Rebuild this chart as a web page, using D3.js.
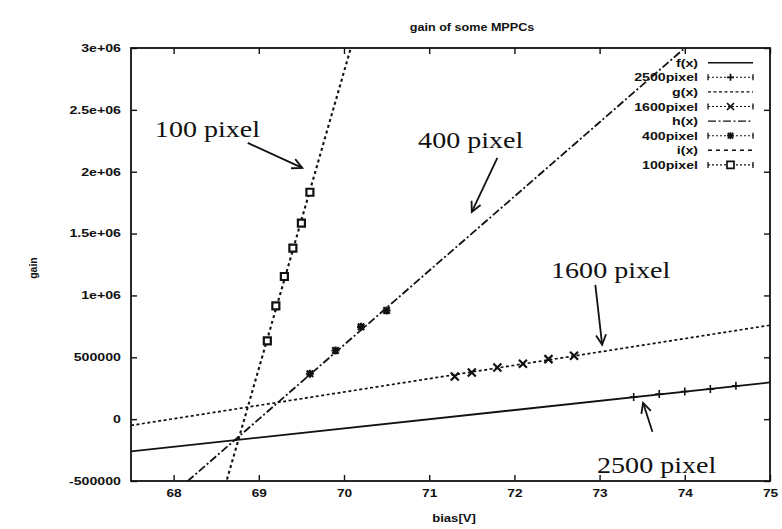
<!DOCTYPE html>
<html>
<head>
<meta charset="utf-8">
<script src="https://cdn.jsdelivr.net/npm/d3@7"></script>
<style>
  body { margin: 0; background: #fff; }
  text { font-family: "Liberation Sans", Arial, sans-serif; font-weight: bold; font-size: 10.5px; fill: #111; }
  .note { font-family: "Liberation Serif", serif; font-weight: normal; font-size: 24px; }
</style>
</head>
<body>
<div class="gainplot"></div>
<script>
// axis ticks
var xTicks = [68, 69, 70, 71, 72, 73, 74, 75];
var yTicks = [-500000, 0, 500000, 1000000, 1500000, 2000000, 2500000, 3000000];
var yTickLabels = ["-500000", "0", "500000", "1e+06", "1.5e+06", "2e+06", "2.5e+06", "3e+06"];

// fitted lines: gain = slope * (bias - root)
var fitNames = ["f(x)", "g(x)", "h(x)", "i(x)"];
var fitSlope = [74300, 108000, 600000, 2400000];
var fitRoot = [71.01, 67.97, 69.0, 68.83];

// measured points
var seriesNames = ["2500pixel", "1600pixel", "400pixel", "100pixel"];
var bias2500 = [73.4, 73.7, 74.0, 74.3, 74.6];
var gain2500 = [179000, 203000, 224000, 243000, 270000];
var bias1600 = [71.3, 71.5, 71.8, 72.1, 72.4, 72.7];
var gain1600 = [345000, 377000, 418000, 447000, 485000, 512000];
var bias400 = [69.6, 69.9, 70.2, 70.5];
var gain400 = [367000, 555000, 746000, 878000];
var bias100 = [69.1, 69.2, 69.3, 69.4, 69.5, 69.6];
var gain100 = [633000, 916000, 1153000, 1382000, 1584000, 1834000];

// hand-written annotations (data units)
var noteLabels = ["100 pixel", "400 pixel", "1600 pixel", "2500 pixel"];
var noteX = [67.78, 70.87, 72.43, 72.97];
var noteY = [2281000, 2192000, 1142000, -433000];
var arrowFrom = [[68.87, 2233000], [71.80, 2111000], [72.95, 1086000], [73.62, -102000]];
var arrowTo = [[69.51, 2031000], [71.50, 1675000], [73.03, 601000], [73.51, 132000]];

var margin = {top: 48, right: 12, bottom: 48, left: 131}
  , width = 782 - margin.left - margin.right
  , height = 529 - margin.top - margin.bottom;

var xScale = d3.scaleLinear().domain([67.5, 75]).range([0, width]);
var yScale = d3.scaleLinear().domain([-500000, 3000000]).range([height, 0]);

var fitDash = [null, "3,2.5", "8,2.5,2,2.5", "3,3"];
var fitWidth = [1.8, 1.7, 1.8, 2.1];
var markType = ["plus", "cross", "star", "square"];
var seriesBias = [bias2500, bias1600, bias400, bias100];
var seriesGain = [gain2500, gain1600, gain400, gain100];

var svg = d3.select(".gainplot").append("svg")
    .attr("width", 782)
    .attr("height", 529);

var defs = svg.append("defs");
defs.append("clipPath").attr("id", "clip")
  .append("rect").attr("width", width).attr("height", height);
defs.append("marker")
    .attr("id", "head")
    .attr("markerUnits", "userSpaceOnUse")
    .attr("markerWidth", 14).attr("markerHeight", 14)
    .attr("refX", 11).attr("refY", 6)
    .attr("orient", "auto")
  .append("path")
    .attr("d", "M1,1 L11,6 L1,11")
    .attr("fill", "none").attr("stroke", "#111").attr("stroke-width", 1.8);

function label(parent, x, y, str, k, anchor) {
  return parent.append("text")
    .attr("transform", "translate(" + x + "," + y + ") scale(" + k + ",1)")
    .attr("text-anchor", anchor)
    .text(str);
}

function stretch(sel, k) {
  sel.each(function() {
    var t = d3.select(this), x = +t.attr("x") || 0;
    t.attr("x", x / k).attr("transform", "scale(" + k + ",1)");
  });
}

function markPath(type, s) {
  if (type == "plus") return "M" + (-s) + ",0H" + s + "M0," + (-s) + "V" + s;
  if (type == "cross") return "M" + (-s) + "," + (-s) + "L" + s + "," + s + "M" + (-s) + "," + s + "L" + s + "," + (-s);
  if (type == "star") return markPath("plus", s) + markPath("cross", s * 0.8);
  return "M" + (-s) + "," + (-s) + "h" + 2 * s + "v" + 2 * s + "h" + (-2 * s) + "Z";
}

var g = svg.append("g")
    .attr("transform", "translate(" + margin.left + "," + margin.top + ")");

// axes with inward ticks
var xAxis = g.append("g")
    .attr("transform", "translate(0," + height + ")")
    .call(d3.axisBottom(xScale).tickValues(xTicks).tickFormat(d3.format("d")).tickSize(-6).tickPadding(9));
var yAxis = g.append("g")
    .call(d3.axisLeft(yScale).tickValues(yTicks).tickFormat(function(d, i) { return yTickLabels[i]; }).tickSize(-6).tickPadding(10));
g.append("g")
    .call(d3.axisTop(xScale).tickValues(xTicks).tickFormat("").tickSize(-6));
g.append("g")
    .attr("transform", "translate(" + width + ",0)")
    .call(d3.axisRight(yScale).tickValues(yTicks).tickFormat("").tickSize(-6));
g.selectAll(".domain").remove();
g.selectAll(".tick line").attr("stroke", "#111").attr("stroke-width", 1.4);
g.selectAll(".tick text").attr("font-size", null).attr("font-family", null).attr("fill", "#111");
xAxis.selectAll(".tick text").attr("font-size", "11px");
stretch(xAxis.selectAll(".tick text"), 1.3);
stretch(yAxis.selectAll(".tick text"), 1.35);

g.append("rect")
    .attr("width", width).attr("height", height)
    .attr("fill", "none").attr("stroke", "#111").attr("stroke-width", 1.8);

// fit lines
var plot = g.append("g").attr("clip-path", "url(#clip)");
var line = d3.line()
    .x(function(d) { return xScale(d[0]); })
    .y(function(d) { return yScale(d[1]); });

fitNames.forEach(function(name, i) {
  var pts = xScale.domain().map(function(b) { return [b, fitSlope[i] * (b - fitRoot[i])]; });
  plot.append("path")
      .datum(pts)
      .attr("d", line)
      .attr("fill", "none")
      .attr("stroke", "#111")
      .attr("stroke-width", fitWidth[i])
      .attr("stroke-dasharray", fitDash[i]);
});

// data points
seriesNames.forEach(function(name, i) {
  var pts = seriesBias[i].map(function(b, j) { return [b, seriesGain[i][j]]; });
  plot.selectAll(".m" + i)
      .data(pts)
    .enter().append("path")
      .attr("class", "m" + i)
      .attr("transform", function(d) { return "translate(" + xScale(d[0]) + "," + yScale(d[1]) + ")"; })
      .attr("d", markPath(markType[i], markType[i] == "square" ? 3.5 : 4))
      .attr("fill", markType[i] == "square" ? "#fff" : "none")
      .attr("stroke", "#111")
      .attr("stroke-width", markType[i] == "plus" ? 1.6 : 2.2);
});

// key
var key = g.append("g");
var keyY0 = 14.7, keyStep = 14.6, keyTextX = 567, keyL = 577, keyR = 622;
fitNames.forEach(function(name, i) {
  var y1 = keyY0 + 2 * i * keyStep, y2 = y1 + keyStep;
  label(key, keyTextX, y1 + 4, name, 1.35, "end");
  key.append("line")
      .attr("x1", keyL).attr("x2", keyR).attr("y1", y1).attr("y2", y1)
      .attr("stroke", "#111").attr("stroke-width", 1.4)
      .attr("stroke-dasharray", i == 3 ? "4,4" : fitDash[i]);
  label(key, keyTextX, y2 + 4, seriesNames[i], 1.35, "end");
  key.append("line")
      .attr("x1", keyL).attr("x2", keyR).attr("y1", y2).attr("y2", y2)
      .attr("stroke", "#111").attr("stroke-width", 1.1).attr("stroke-dasharray", "2,2");
  [keyL, keyR].forEach(function(kx) {
    key.append("line")
        .attr("x1", kx).attr("x2", kx).attr("y1", y2 - 3).attr("y2", y2 + 3)
        .attr("stroke", "#111").attr("stroke-width", 1.3);
  });
  key.append("path")
      .attr("transform", "translate(" + (keyL + keyR) / 2 + "," + y2 + ")")
      .attr("d", markPath(markType[i], 3.5))
      .attr("fill", "#fff").attr("stroke", "#111").attr("stroke-width", 1.7);
});

// annotations
noteLabels.forEach(function(txt, i) {
  label(g, xScale(noteX[i]), yScale(noteY[i]), txt, 1.17, "start").attr("class", "note");
  g.append("line")
      .attr("x1", xScale(arrowFrom[i][0])).attr("y1", yScale(arrowFrom[i][1]))
      .attr("x2", xScale(arrowTo[i][0])).attr("y2", yScale(arrowTo[i][1]))
      .attr("stroke", "#111").attr("stroke-width", 1.8)
      .attr("marker-end", "url(#head)");
});

// titles
label(svg, 472, 31, "gain of some MPPCs", 1.2, "middle");
label(svg, 454, 522, "bias[V]", 1.25, "middle");
svg.append("text")
    .attr("transform", "translate(37,268) rotate(-90)")
    .attr("text-anchor", "middle")
    .text("gain");
</script>
</body>
</html>
